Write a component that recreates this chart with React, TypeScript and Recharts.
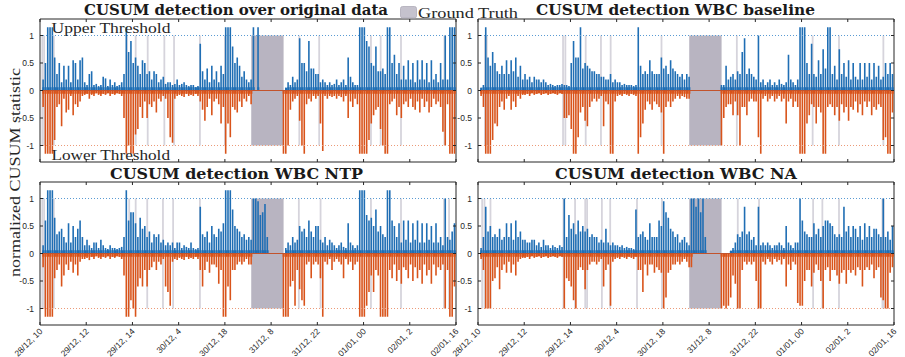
import { ComposedChart, Bar, XAxis, YAxis, ReferenceLine, ReferenceArea } from 'recharts';

// samples per x tick interval (x axis runs 0..9 tick units)
const PER_TICK = 20;

const xTicks = [0, 1, 2, 3, 4, 5, 6, 7, 8, 9];
const xTickLabels = [
  '28/12, 10', '29/12, 12', '29/12, 14', '30/12, 4', '30/12, 18',
  '31/12, 8', '31/12, 22', '01/01, 00', '02/01, 2', '02/01, 16',
];
const yTicks = [-1, -0.5, 0, 0.5, 1];
const groundTruth = [4.57, 5.27];

// CUSUM detection over original data
const origUp = [
  0, .2, .5, 1.15, 1.15, 1.15, .6, .3, .5, .15, .45, .2, .45, .15, .55, .5, .2, .55, .6, .15,
  .1, .3, .35, .1, .12, .08, .1, .25, .22, .08, .2, .1, .15, .08, .1, .15, .3, 1.15, .7, .9,
  .5, .6, .45, .3, .55, .5, .3, .35, .2, .35, .3, .15, .2, .25, .12, .15, .15, .1, .12, .2,
  .1, .12, .15, .1, .08, .1, .1, .06, .08, .85, .35, .2, .4, .15, .45, .2, .35, .15, .45, .3,
  1.15, 1.15, 1.15, .8, .5, .6, .45, .25, .35, .2, .15, .2, 1.15, 0, 1.15, 0, 0, 0, 0, 0,
  0, 0, 0, 0, 0, 0, .05, .15, .1, .25, .15, .2, .95, .5, .5, .35, .9, .4, .4, .3,
  .3, .15, .2, .15, .1, .15, .1, .12, .2, .1, .15, .2, .1, .6, .25, .15, .1, .1, 1.15, 1.15,
  1.15, .9, .8, .5, .45, .8, .35, .35, .4, .3, 1.15, 1.15, .5, .65, .3, .5, .2, .45, .2, .55,
  .2, .5, .15, .55, .2, .55, .2, .5, .15, .55, .2, .3, .15, .5, .2, 1.0, .2, 1.15, 1.15, 1.15,
];
const origDown = [
  0, -.3, -1.15, -1.15, -1.15, -1.15, -.9, -.3, -.25, -.65, -.15, -.4, -.35, -.1, -.45, -.25, -.3, -.2, -.1, -.08,
  -.06, -.15, -.08, -.1, -.05, -.08, -.1, -.06, -.08, -.05, -.1, -.06, -.08, -.05, -.06, -.1, -.5, -1.15, -1.0, -1.15,
  -1.15, -.8, -.7, -.3, -.5, -.2, -.5, -.25, -.3, -.2, -.4, -.15, -.2, -.1, -.15, -.5, -.85, -.95, -.15, -.1,
  -.08, -.1, -.12, -.06, -.1, -.08, -.1, -.06, -.1, -.2, -.35, -.55, -.3, -.15, -.45, -.2, -.15, -.25, -.6, -.3,
  -1.15, -.6, -.85, -.3, -.35, -.4, -.2, -.3, -.15, -.2, -.1, -.25, 0, 0, 0, 0, 0, 0, 0, 0,
  0, 0, 0, 0, 0, -1.15, -1.15, -1.0, -.35, -.2, -.15, -.1, -.55, -1.0, -1.15, -.25, -.15, -.2, -.1, -.15,
  -.1, -.6, -1.1, -.1, -.15, -.1, -.12, -.1, -.15, -.1, -.12, -.2, -.1, -.5, -.2, -.3, -.15, -.25, -1.15, -1.15,
  -1.15, -1.15, -.9, -.6, -.45, -.35, -.3, -.7, -1.0, -1.15, -1.15, -.25, -.2, -.15, -.45, -.3, -.5, -.25, -.2, -.3,
  -.15, -.3, -.35, -.2, -.4, -.15, -.3, -.2, -.4, -.3, -.15, -.25, -.2, -.3, -.75, -1.0, -.25, -1.15, -1.15, -1.15,
];
const origMarks = [0.05, 0.09, 0.3, 1.88, 2.07, 2.33, 2.69, 2.9, 3.46, 4.0, 5.61, 6.04, 7.16, 7.37, 7.81, 8.75];

// CUSUM detection WBC baseline
const baseUp = [
  0, .05, .1, 1.15, .6, .45, .7, .5, .35, .3, .45, .3, .55, .3, .55, .35, .6, .25, .45, .2,
  .3, .2, .25, .15, .25, .2, .2, .15, .2, .15, .1, .12, .1, .08, .1, .1, .12, .1, .1, .08,
  .5, .9, .6, .6, 1.15, .4, .5, .45, .4, .35, .35, .3, .3, .25, .25, .2, .2, .3, .15, .2,
  .15, .15, .1, .12, .1, .1, .1, .08, .1, 1.15, .45, .3, .35, .3, .55, .35, .3, .3, .3, .6,
  .4, .45, .3, .55, .4, .35, .3, .25, .3, .2, .3, .25, 0, 0, 0, 0, 0, 0, 0, 0,
  0, 0, 0, 0, 0, .1, .1, .45, .2, .25, .3, .2, .35, .3, .7, .95, .3, .4, .3, .25,
  .2, 1.0, .15, .2, .1, .15, .2, .1, .15, .1, .2, .12, .1, .15, .65, .2, .15, .1, .2, 1.15,
  1.15, 1.15, .5, .3, .85, .3, .25, .55, .3, .75, .4, 1.15, 1.15, .3, .45, .2, .75, .3, .5, .25,
  .55, .2, .5, .25, .2, .5, .2, .5, .25, .5, .2, .5, .25, .45, .2, .25, .5, .3, .5, .3,
];
const baseDown = [
  0, -.1, -.3, -1.15, -1.15, -1.15, -.9, -.6, -.65, -.3, -.2, -.35, -.15, -.1, -.35, -.2, -.3, -.1, -.15, -.08,
  -.08, -.06, -.1, -.05, -.08, -.06, -.05, -.08, -.06, -.05, -.08, -.06, -.05, -.06, -.08, -.05, -.06, -.5, -.5, -.45,
  -.7, -1.15, -1.15, -.85, -.4, -.3, -.55, -.65, -.3, -.2, -.15, -.2, -.15, -.1, -.65, -.2, -.25, -1.15, -1.15, -.2,
  -.1, -.08, -.1, -.06, -.08, -.1, -.06, -.08, -.1, -1.15, -.85, -.6, -.35, -.2, -.25, -.35, -.2, -.25, -.3, -.4,
  -1.15, -.3, -.2, -.3, -.2, -.15, -.1, -.15, -.1, -.12, -.15, -.15, 0, 0, 0, 0, 0, 0, 0, 0,
  0, 0, 0, 0, 0, -1.0, -.5, -.3, -.25, -.25, -.45, -.2, -.45, -1.0, -.3, -.3, -.45, -.2, -.15, -.2,
  -.2, -.85, -1.15, -.15, -.1, -.2, -.15, -.1, -.2, -.15, -.1, -.2, -.15, -.6, -.2, -.15, -.3, -.2, -.3, -1.15,
  -1.15, -1.15, -.6, -.45, -.25, -.3, -.6, -.3, -.4, -1.15, -1.15, -.3, -.25, -.3, -.45, -.3, -.55, -.25, -.4, -.3,
  -.55, -.3, -.35, -.2, -.4, -.25, -.45, -.2, -.3, -.2, -.45, -.3, -.35, -.25, -.3, -.9, -.85, -1.15, -1.15, -.4,
];
const baseMarks = [0.15, 0.19, 1.84, 1.89, 2.33, 2.66, 2.87, 3.97, 5.6, 7.24, 7.81, 8.77];

// CUSUM detection WBC NTP
const ntpUp = [
  0, .15, .6, 1.15, 1.15, 1.15, .65, .35, .4, .45, .3, .2, .55, .2, .5, .3, .45, .6, .3, .15,
  .25, .15, .1, .2, .2, .1, .25, .15, .1, .08, .15, .1, .1, .08, .1, .12, .3, 1.15, .6, .75,
  .75, .55, .3, .65, .45, .5, .3, .4, .2, .35, .3, .35, .2, .25, .15, .2, .15, .2, .1, .2,
  .2, .1, .15, .12, .1, .2, .1, .08, .1, .85, .35, .3, .4, .2, .5, .35, .3, .45, .4, .55,
  1.15, 1.15, 1.15, .8, .5, .45, .4, .3, .35, .25, .3, .25, 1.0, 1.0, .95, .7, .75, .9, .3, 0,
  0, 0, 0, 0, 0, 0, .1, .2, .15, .3, .2, .25, .5, .4, .45, .3, .6, .4, .3, .5,
  .5, .25, .2, .3, .15, .25, .2, .15, .1, .15, .2, .12, .1, .55, .2, .15, .1, .15, 1.15, 1.15,
  1.15, .7, .6, .65, .5, .8, .4, .5, .35, .3, 1.15, 1.15, .6, .5, .3, .55, .2, .6, .25, .6,
  .2, .55, .25, .6, .2, .55, .2, .55, .25, .5, .2, .55, .2, .3, .15, 1.0, .3, .25, .4, .55,
];
const ntpDown = [
  0, -.25, -1.15, -1.15, -1.15, -1.15, -.45, -.3, -.2, -.6, -.4, -.2, -.3, -.15, -.35, -.2, -.4, -.15, -.1, -.1,
  -.08, -.12, -.06, -.1, -.05, -.08, -.1, -.06, -.08, -.05, -.1, -.06, -.08, -.05, -.06, -.1, -.4, -1.15, -1.15, -.85,
  -1.0, -1.15, -.6, -.45, -.6, -.3, -.6, -.3, -.25, -.15, -.3, -.15, -.2, -.1, -.6, -.7, -.95, -.15, -.1, -.12,
  -.08, -.1, -.12, -.06, -.1, -.08, -.1, -.06, -.1, -.3, -.6, -.3, -.15, -.35, -.2, -.2, -.25, -.55, -.3, -1.15,
  -1.15, -.6, -.85, -.3, -.3, -.2, -.15, -.2, -.15, -.1, -.2, -.2, 0, 0, 0, 0, 0, 0, 0, 0,
  0, 0, 0, 0, 0, -1.15, -1.15, -1.15, -.6, -.5, -.95, -.3, -.65, -.85, -.95, -.2, -.15, -.45, -.2, -.15,
  -.2, -.45, -1.15, -.15, -.2, -.1, -.3, -.15, -.1, -.15, -.2, -.45, -.1, -.2, -.15, -.3, -.2, -.15, -1.15, -1.15,
  -1.15, -.95, -.7, -.4, -.7, -.3, -.4, -1.15, -1.15, -1.15, -1.15, -.3, -.45, -.2, -.5, -.3, -.55, -.25, -.3, -.45,
  -.2, -.5, -.25, -.45, -.3, -.55, -.2, -.4, -.3, -.55, -.2, -.4, -.25, -.3, -.2, -1.0, -.3, -1.15, -1.15, -.6,
];
const ntpMarks = [0.05, 0.09, 0.3, 1.93, 2.07, 2.32, 2.66, 2.88, 3.46, 5.6, 6.07, 7.16, 7.81, 8.74, 8.85];

// CUSUM detection WBC NA
const naUp = [
  0, .1, .3, .85, .4, .5, .3, .35, .3, .45, .25, .3, .55, .3, .55, .25, .6, .3, .4, .25,
  .25, .2, .2, .25, .25, .15, .2, .12, .25, .15, .15, .1, .15, .12, .1, .15, .12, 1.0, .3, .7,
  .45, .55, .35, .6, .4, .5, .4, .45, .3, .35, .3, .3, .2, .25, .2, .45, .2, .15, .2, .15,
  .15, .12, .15, .1, .12, .1, .1, .08, .8, .3, .35, .4, .3, .25, .55, .3, .3, .3, .6, .5,
  .95, .75, .65, .45, .4, .3, .35, .2, .25, .3, .2, .15, 1.0, 1.0, .85, 1.0, .75, 1.0, .3, 0,
  0, 0, 0, 0, 0, 0, 0, 0, 0, .05, .1, .2, .35, .3, .4, .85, .35, .4, .25, .3,
  .15, .85, .15, .2, .15, .2, .15, .1, .15, .15, .2, .15, .1, .5, .2, .15, .1, .2, .2, 1.0,
  .6, .4, .35, .3, .3, .55, .35, .45, .3, .5, .6, .6, .55, .5, .35, .3, .35, .3, .85, .4,
  .5, .3, .5, .45, .3, .5, .25, .55, .3, .5, .3, .45, .45, .35, .3, 1.0, .3, .4, .25, .5,
];
const naDown = [
  0, -.1, -.3, -1.0, -1.0, -1.0, -.5, -.45, -.25, -.65, -.3, -.2, -.35, -.15, -.35, -.2, -.4, -.15, -.1, -.08,
  -.08, -.06, -.1, -.05, -.08, -.06, -.05, -.08, -.06, -.05, -.08, -.06, -.05, -.06, -.08, -.05, -.06, -1.0, -.45, -.5,
  -.6, -.85, -1.0, -.3, -.25, -.3, -.65, -.3, -.2, -.15, -.15, -.2, -.15, -.1, -.6, -.3, -.2, -.95, -.15, -.1,
  -.08, -.1, -.06, -.08, -.1, -.06, -.08, -.1, -.06, -.3, -.3, -.7, -.2, -.4, -.2, -.2, -.35, -.25, -.3, -.35,
  -1.0, -.8, -.35, -.3, -.2, -.2, -.15, -.2, -.15, -.1, -.15, -.25, -.25, 0, 0, 0, 0, 0, 0, 0,
  0, 0, 0, 0, 0, -1.0, -.95, -1.0, -.95, -.8, -.4, -.55, -1.0, -1.0, -.3, -.15, -.2, -.15, -.2, -.15,
  -.5, -1.0, -1.0, -.15, -.2, -.1, -.15, -.2, -.1, -.15, -.12, -.2, -.1, -.6, -.2, -.3, -.15, -.2, -.9, -.95,
  -.95, -.5, -.3, -.3, -.6, -.35, -.2, -.3, -.5, -1.0, -.3, -.25, -.5, -.3, -.3, -.4, -.55, -.35, -.3, -.55,
  -.3, -.35, -.3, -.4, -.25, -.3, -.6, -.3, -.25, -.3, -.2, -.45, -.3, -.25, -.8, -.85, -1.0, -1.0, -.35, -.25,
];
const naMarks = [0.09, 0.14, 0.27, 1.85, 2.1, 2.32, 2.36, 2.68, 2.86, 3.44, 3.98, 5.62, 6.08, 7.25, 7.45, 7.81, 8.75, 8.78];

const BLUE = '#1f6eb4';
const ORANGE = '#d9541b';
const INK = '#262626';
const SANS = '"Liberation Sans", Arial, sans-serif';
const SERIF = '"Liberation Serif", "DejaVu Serif", serif';

const PLOT_W = 416;
const PLOT_H = 143;
const AXIS_W = 40;
const Y_MAX = 1.3;
const X_MAX = 9;
// the dense band near zero is drawn wider than the spikes
const BASE = 0.06;
// inner tick length on the top and right edges, in axis units (about 3px)
const TICK_DY = 0.055;
const TICK_DX = 0.065;

function rows(up: number[], down: number[]) {
  return up.map((u, i) => ({
    t: (i + 0.5) / PER_TICK,
    up: u,
    down: down[i],
    upBase: Math.min(u, BASE),
    downBase: Math.max(down[i], -BASE),
  }));
}

function XTick(props: any) {
  const { x, y, payload, show } = props;
  if (!show) return <g />;
  return (
    <text
      transform={`translate(${x + 3},${y + 1}) rotate(-45)`}
      textAnchor="end"
      fontSize={8.5}
      fontFamily={SANS}
      fill={INK}
    >
      {xTickLabels[Math.round(payload.value)]}
    </text>
  );
}

type PanelProps = {
  left: number;
  top: number;
  up: number[];
  down: number[];
  marks: number[];
  labels: boolean;
};

function Panel({ left, top, up, down, marks, labels }: PanelProps) {
  const bottom = labels ? 32 : 4;
  const data = rows(up, down);
  return (
    <div style={{ position: 'absolute', left: left - AXIS_W, top: top - 5 }}>
      <ComposedChart
        width={AXIS_W + PLOT_W + 6}
        height={5 + PLOT_H + bottom}
        data={data}
        stackOffset="sign"
        margin={{ top: 5, right: 6, bottom: 0, left: 0 }}
      >
        <XAxis
          dataKey="t"
          type="number"
          domain={[0, X_MAX]}
          ticks={xTicks}
          height={bottom}
          axisLine={false}
          tickSize={-3}
          tickMargin={9}
          tickLine={{ stroke: INK }}
          tick={(p: any) => <XTick {...p} show={labels} />}
          interval={0}
        />
        <XAxis xAxisId="base" dataKey="t" type="number" domain={[0, X_MAX]} hide />
        <YAxis
          type="number"
          domain={[-Y_MAX, Y_MAX]}
          ticks={yTicks}
          width={AXIS_W}
          axisLine={false}
          tickSize={-3}
          tickMargin={9}
          tickLine={{ stroke: INK }}
          tick={{ fontSize: 8.5, fill: INK, fontFamily: SANS }}
          allowDataOverflow
        />
        <ReferenceArea
          x1={groundTruth[0]}
          x2={groundTruth[1]}
          y1={-1}
          y2={1}
          fill="#b8b4c1"
          fillOpacity={1}
          stroke="none"
          zIndex={50}
        />
        {marks.map((m) => (
          <ReferenceLine
            key={m}
            segment={[{ x: m, y: -1 }, { x: m, y: 1 }]}
            stroke="#d6d4dc"
            strokeWidth={1.8}
            zIndex={60}
          />
        ))}
        <Bar xAxisId="base" dataKey="upBase" stackId="b" fill={BLUE} barSize={2.8} isAnimationActive={false} />
        <Bar xAxisId="base" dataKey="downBase" stackId="b" fill={ORANGE} barSize={2.8} isAnimationActive={false} />
        <Bar dataKey="up" stackId="s" fill={BLUE} barSize={1.6} isAnimationActive={false} />
        <Bar dataKey="down" stackId="s" fill={ORANGE} barSize={1.6} isAnimationActive={false} />
        <ReferenceLine y={0} stroke="#c2532c" strokeWidth={1.2} />
        <ReferenceLine y={1} stroke="#5a9bd3" strokeDasharray="1 2" />
        <ReferenceLine y={-1} stroke="#ec9a78" strokeDasharray="1 2" />
        {xTicks.map((k) => (
          <ReferenceLine
            key={`top${k}`}
            segment={[{ x: k, y: Y_MAX }, { x: k, y: Y_MAX - TICK_DY }]}
            stroke={INK}
            ifOverflow="visible"
          />
        ))}
        {yTicks.map((v) => (
          <ReferenceLine
            key={`right${v}`}
            segment={[{ x: X_MAX - TICK_DX, y: v }, { x: X_MAX, y: v }]}
            stroke={INK}
            ifOverflow="visible"
          />
        ))}
        <ReferenceArea x1={0} x2={X_MAX} y1={-Y_MAX} y2={Y_MAX} fill="none" stroke={INK} strokeWidth={1} />
      </ComposedChart>
    </div>
  );
}

export default function App() {
  return (
    <div style={{ position: 'absolute', left: 0, top: 0, width: 905, height: 357, background: '#fff' }}>
      <Panel left={39.5} top={19} up={origUp} down={origDown} marks={origMarks} labels={false} />
      <Panel left={477.5} top={19} up={baseUp} down={baseDown} marks={baseMarks} labels={false} />
      <Panel left={39.5} top={182} up={ntpUp} down={ntpDown} marks={ntpMarks} labels />
      <Panel left={477.5} top={182} up={naUp} down={naDown} marks={naMarks} labels />
      <svg
        width={905}
        height={357}
        style={{ position: 'absolute', left: 0, top: 0, pointerEvents: 'none' }}
      >
        <g fontFamily='"DejaVu Serif", serif' fontWeight="bold" fontSize={15.5} fill="#1a1a1a">
          <text x={84} y={15} textLength={304} lengthAdjust="spacingAndGlyphs">CUSUM detection over original data</text>
          <text x={536} y={15} textLength={279} lengthAdjust="spacingAndGlyphs">CUSUM detection WBC baseline</text>
          <text x={110} y={179} textLength={253} lengthAdjust="spacingAndGlyphs">CUSUM detection WBC NTP</text>
          <text x={555} y={178.5} textLength={242} lengthAdjust="spacingAndGlyphs">CUSUM detection WBC NA</text>
        </g>
        <rect x={400.5} y={6.5} width={16} height={11.5} rx={2} fill="#c5c2cd" stroke="#aeabb7" strokeWidth={0.8} />
        <g fontFamily={SERIF} fill={INK}>
          <text x={418} y={17.5} fontSize={15} textLength={100} lengthAdjust="spacingAndGlyphs">Ground Truth</text>
          <text x={51.5} y={32.5} fontSize={14} textLength={119} lengthAdjust="spacingAndGlyphs">Upper Threshold</text>
          <text x={51.5} y={159.5} fontSize={14} textLength={118.5} lengthAdjust="spacingAndGlyphs">Lower Threshold</text>
          <text
            transform="translate(20,172.5) rotate(-90)"
            textAnchor="middle"
            fontSize={15}
            textLength={209}
            lengthAdjust="spacingAndGlyphs"
          >
            normalized CUSUM statistic
          </text>
        </g>
      </svg>
    </div>
  );
}
